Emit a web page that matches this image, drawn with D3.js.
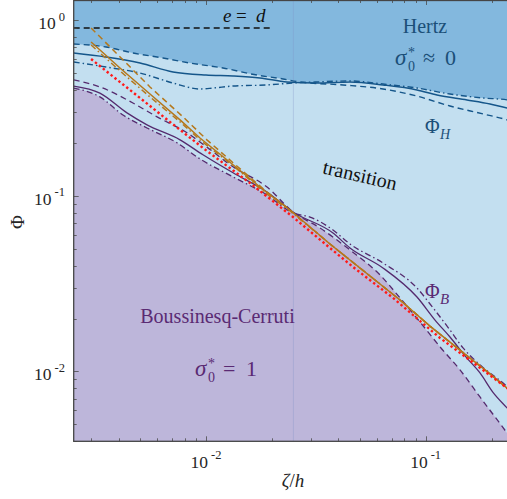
<!DOCTYPE html>
<html><head><meta charset="utf-8">
<script src="https://cdn.jsdelivr.net/npm/d3@7"></script>
<style>body{margin:0;background:#fff}svg{display:block}</style>
</head><body>
<svg id="c" width="507" height="499"></svg>
<script>
// ---------- data ----------
// Phi_H curves (blue)
const zH_dash  = [0.0025,0.00351,0.00465,0.00637,0.00846,0.01196,0.01707,0.02242,0.02679,0.04203,0.06393,0.09131,0.1290,0.1824,0.2346,0.25];
const pH_dash  = [0.730,0.702,0.649,0.608,0.569,0.533,0.486,0.462,0.444,0.427,0.405,0.369,0.324,0.292,0.270,0.263];
const zH_solid = [0.0025,0.00351,0.00501,0.00708,0.0100,0.01328,0.01762,0.02338,0.03201,0.04524,0.06393,0.09131,0.1126,0.1542,0.1963,0.2346,0.25];
const pH_solid = [0.649,0.616,0.569,0.506,0.486,0.480,0.468,0.444,0.438,0.444,0.427,0.400,0.374,0.351,0.333,0.316,0.312];
const zH_dd    = [0.0025,0.00351,0.00501,0.00708,0.00939,0.01077,0.01328,0.01896,0.0249,0.03201,0.04524,0.06393,0.09131,0.1290,0.1824,0.2346,0.25];
const pH_dd    = [0.577,0.540,0.499,0.438,0.405,0.410,0.421,0.427,0.438,0.444,0.450,0.432,0.410,0.379,0.360,0.351,0.346];
// Phi_B curves (purple)
const zB_dash  = [0.0025,0.00329,0.00465,0.00599,0.0082,0.0101,0.01328,0.01896,0.0249,0.03304,0.04524,0.06195,0.0764,0.09423,0.1162,0.1433,0.1767,0.2346,0.25];
const pB_dash  = [0.456,0.416,0.337,0.281,0.228,0.189,0.146,0.112,0.0808,0.0655,0.0491,0.0354,0.0262,0.0191,0.0138,0.0102,0.00715,0.00446,0.0040];
const zB_solid = [0.0025,0.00329,0.00437,0.00539,0.00762,0.00969,0.01328,0.01896,0.0249,0.03786,0.04524,0.06393,0.09131,0.1103,0.1290,0.1542,0.1767,0.2025,0.2346,0.25];
const pB_solid = [0.421,0.384,0.296,0.253,0.208,0.171,0.135,0.105,0.0808,0.0613,0.0504,0.0388,0.0265,0.0196,0.0157,0.0119,0.0098,0.0076,0.0062,0.0057];
const zB_dd    = [0.0025,0.00329,0.00419,0.00539,0.00738,0.00939,0.01328,0.01896,0.0249,0.02975,0.03786,0.04524,0.06393,0.09131,0.1080,0.1290,0.1479,0.1767,0.2346,0.25];
const pB_dd    = [0.410,0.365,0.288,0.243,0.200,0.162,0.128,0.101,0.0797,0.0756,0.0638,0.0531,0.0414,0.0298,0.0230,0.0172,0.0136,0.0109,0.0082,0.0076];
// orange power-law curves
const zO_dash  = [0.0030,0.0039,0.00556,0.00786,0.0101,0.01328,0.01896,0.02413,0.03668,0.05579,0.0764,0.1046,0.1433,0.1963,0.2346,0.25];
const pO_dash  = [0.901,0.649,0.416,0.281,0.208,0.154,0.105,0.0829,0.0531,0.0349,0.0255,0.0181,0.0132,0.00967,0.00804,0.00763];
const zO_solid = [0.0030,0.00406,0.00556,0.00762,0.00939,0.01328,0.01896,0.02413,0.03668,0.05579,0.0764,0.1046,0.1433,0.1963,0.2346,0.25];
const pO_solid = [0.750,0.533,0.379,0.270,0.213,0.150,0.104,0.0829,0.0531,0.0349,0.0255,0.0181,0.0132,0.00967,0.00804,0.00763];
const zO_dd    = [0.0030,0.00406,0.00556,0.00762,0.00939,0.01328,0.01896,0.02413,0.03668,0.05579,0.0764,0.1046,0.1433,0.1963,0.2346,0.25];
const pO_dd    = [0.721,0.513,0.365,0.263,0.208,0.148,0.102,0.0819,0.0531,0.0349,0.0255,0.0181,0.0132,0.00967,0.00804,0.00763];
// red dotted
const zR = [0.0030,0.00651,0.00969,0.01586,0.0249,0.03668,0.04668,0.0710,0.1162,0.2346,0.25];
const pR = [0.600,0.277,0.187,0.118,0.0756,0.0504,0.0393,0.0262,0.0155,0.00804,0.00754];
// e = d line
const zE = [0.0025,0.020];
const pE = [0.90,0.90];
// ticks
const xTickVals = [0.01,0.1];
const xTickExp  = ["-2","-1"];
const yTickVals = [1,0.1,0.01];
const yTickExp  = ["0","-1","-2"];

// ---------- layout ----------
const L=73.7, R=513.1, T=0, B=441.3;
const x = d3.scaleLog().domain([0.0025,0.25]).range([L,R]);
const y = d3.scaleLog().domain([0.004,1.3]).range([B,T]);
const svg = d3.select('#c');
const defs = svg.append('defs');
const FONT = '"Liberation Serif","Times New Roman",serif';
const C_DARK='#83b8de', C_LIGHT='#c3dff0', C_PURP='#bdb6da';
const C_BLUE='#15568a', C_PL='#552a6e', C_OR='#b5781c', C_RED='#ff1a1a';
const blueTxt='#1b4f78', purpTxt='#5a2a73';

const pts=(zs,ps)=>zs.map((z,i)=>[z,ps[i]]);
const areaBelow=d3.area().x(d=>x(d[0])).y0(B+5).y1(d=>y(d[1])).curve(d3.curveMonotoneX);
const lineSmooth=d3.line().x(d=>x(d[0])).y(d=>y(d[1])).curve(d3.curveMonotoneX);
const lineStraight=d3.line().x(d=>x(d[0])).y(d=>y(d[1]));

defs.append('clipPath').attr('id','pc').append('rect').attr('x',L).attr('y',T).attr('width',R-L).attr('height',B-T);
defs.append('clipPath').attr('id','cb1').append('path').attr('d',areaBelow(pts(zB_dash,pB_dash)));
defs.append('clipPath').attr('id','cb2').append('path').attr('d',areaBelow(pts(zB_solid,pB_solid)));

const plot=svg.append('g').attr('clip-path','url(#pc)');
plot.append('rect').attr('x',L).attr('y',T).attr('width',R-L).attr('height',B-T).attr('fill',C_DARK);
[[zH_dash,pH_dash],[zH_solid,pH_solid],[zH_dd,pH_dd]].forEach(([z,p])=>{
  plot.append('path').attr('d',areaBelow(pts(z,p))).attr('fill',C_LIGHT);
});
plot.append('g').attr('clip-path','url(#cb1)').append('g').attr('clip-path','url(#cb2)')
  .append('path').attr('d',areaBelow(pts(zB_dd,pB_dd))).attr('fill',C_PURP);
// faint patch seam
plot.append('line').attr('x1',x(0.025)).attr('x2',x(0.025)).attr('y1',T).attr('y2',B)
  .attr('stroke','#7f8fc4').attr('stroke-opacity',0.3).attr('stroke-width',1);

const DASH='6,4', DD='6,3,1.5,3';
function drawLine(z,p,color,dash,w,gen){
  const pth=plot.append('path').attr('d',(gen||lineSmooth)(pts(z,p))).attr('fill','none')
    .attr('stroke',color).attr('stroke-width',w||1.3);
  if(dash) pth.attr('stroke-dasharray',dash);
  return pth;
}
drawLine(zH_dash,pH_dash,C_BLUE,DASH,1.4);
drawLine(zH_solid,pH_solid,C_BLUE,null,1.5);
drawLine(zH_dd,pH_dd,C_BLUE,DD,1.4);
drawLine(zB_dash,pB_dash,C_PL,DASH,1.3);
drawLine(zB_solid,pB_solid,C_PL,null,1.3);
drawLine(zB_dd,pB_dd,C_PL,DD,1.3);
drawLine(zO_dash,pO_dash,C_OR,DASH,1.5,lineStraight);
drawLine(zO_solid,pO_solid,C_OR,null,1.5,lineStraight);
drawLine(zO_dd,pO_dd,C_OR,DD,1.5,lineStraight);
drawLine(zR,pR,C_RED,'2.4,2.6',2.4,lineStraight);
drawLine(zE,pE,'#111',DASH,1.4,lineStraight);

// ---------- axes ----------
const ax=svg.append('g');
const isMajor=v=>Math.abs(Math.log10(v)-Math.round(Math.log10(v)))<1e-6;
const tickCol='#4a4a4a';
y.ticks().forEach(v=>{
  const len=isMajor(v)?5:3, yy=Math.round(y(v))+0.5;
  ax.append('line').attr('x1',L).attr('x2',L+len).attr('y1',yy).attr('y2',yy).attr('stroke',tickCol).attr('stroke-width',0.8);
  ax.append('line').attr('x1',R).attr('x2',R-len).attr('y1',yy).attr('y2',yy).attr('stroke',tickCol).attr('stroke-width',0.8);
});
x.ticks().forEach(v=>{
  const len=isMajor(v)?5:3, xx=Math.round(x(v))+0.5;
  ax.append('line').attr('x1',xx).attr('x2',xx).attr('y1',B).attr('y2',B-len).attr('stroke',tickCol).attr('stroke-width',0.8);
  ax.append('line').attr('x1',xx).attr('x2',xx).attr('y1',T).attr('y2',T+len).attr('stroke',tickCol).attr('stroke-width',0.8);
});
ax.append('rect').attr('x',L).attr('y',T+0.5).attr('width',R-L).attr('height',B-T-0.5)
  .attr('fill','none').attr('stroke','#454545').attr('stroke-width',1.3);

function powLabel(tx,ty,exp,anchor){
  const t=svg.append('text').attr('x',tx).attr('y',ty).attr('text-anchor',anchor)
    .attr('font-family',FONT).attr('font-size',17.5).attr('fill','#262626');
  t.append('tspan').text('10');
  t.append('tspan').attr('dx',3).attr('dy',-8.5).attr('font-size',12.5).text(exp);
}
yTickVals.forEach((v,i)=>powLabel(65,y(v)+9,yTickExp[i],'end'));
xTickVals.forEach((v,i)=>powLabel(x(v),467.5,xTickExp[i],'middle'));

// axis labels
svg.append('text').attr('transform','translate(17,222) rotate(-90)').attr('text-anchor','middle')
  .attr('dominant-baseline','central').attr('font-family',FONT).attr('font-size',19).attr('fill','#262626').text('Φ');
const xl=svg.append('text').attr('x',293).attr('y',487).attr('text-anchor','middle')
  .attr('font-family',FONT).attr('font-size',19).attr('fill','#262626');
xl.append('tspan').attr('font-style','italic').text('ζ');
xl.append('tspan').text('/');
xl.append('tspan').attr('font-style','italic').text('h');

// ---------- annotations ----------
function txt(tx,ty,s,size,color,opts){
  opts=opts||{};
  const t=svg.append('text').attr('x',tx).attr('y',ty).attr('font-family',FONT).attr('font-size',size)
    .attr('fill',color).attr('text-anchor',opts.anchor||'start').text(s);
  if(opts.italic) t.attr('font-style','italic');
  return t;
}
// e = d
txt(223,22,'e',19,'#111',{italic:true});
txt(236,22,'=',19,'#111');
txt(256,22,'d',19,'#111',{italic:true});
// Hertz
txt(425,33,'Hertz',20,blueTxt,{anchor:'middle'});
txt(395,65,'σ',23,blueTxt,{italic:true});
txt(408,57,'*',14,blueTxt);
txt(408,71,'0',14,blueTxt);
txt(423,65,'≈',22,blueTxt);
txt(445,65,'0',22,blueTxt);
// Phi_H
txt(425,133,'Φ',20,blueTxt);
txt(440,139,'H',14,blueTxt,{italic:true});
// transition
svg.append('text').attr('transform','translate(360,175) rotate(13)').attr('text-anchor','middle')
  .attr('dominant-baseline','central').attr('font-family',FONT).attr('font-size',20).attr('fill','#111').text('transition');
// Phi_B
txt(425,298,'Φ',20,purpTxt);
txt(440,304,'B',15,purpTxt,{italic:true});
// Boussinesq-Cerruti
txt(217.5,323,'Boussinesq-Cerruti',20,purpTxt,{anchor:'middle'});
txt(195,376,'σ',23,purpTxt,{italic:true});
txt(208,368,'*',14,purpTxt);
txt(208,382,'0',14,purpTxt);
txt(223,376,'=',22,purpTxt);
txt(246,376,'1',22,purpTxt);
</script>
</body></html>
